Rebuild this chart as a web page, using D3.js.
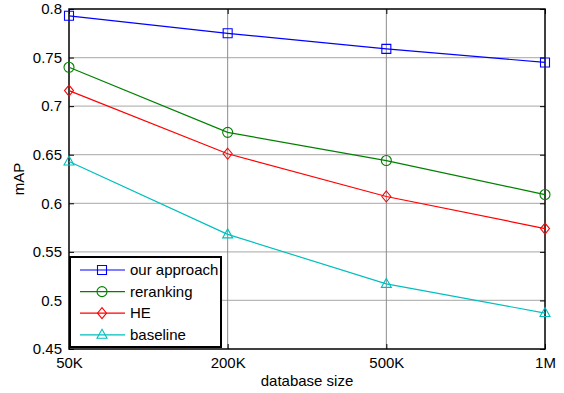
<!DOCTYPE html>
<html>
<head>
<meta charset="utf-8">
<script src="https://cdn.jsdelivr.net/npm/d3@7"></script>
<style>
  body { margin: 0; background: #fff; }
  text { font-family: "Liberation Sans", Arial, sans-serif; }
</style>
</head>
<body>
<div id="canvas"></div>
<script>
const width = 564;
const height = 393;

// data
const sizes = ['50K', '200K', '500K', '1M'];
const ourApproach = [0.793, 0.775, 0.759, 0.745];
const reranking = [0.740, 0.673, 0.644, 0.609];
const he = [0.716, 0.651, 0.607, 0.574];
const baseline = [0.643, 0.568, 0.517, 0.487];
const yTicks = [0.45, 0.5, 0.55, 0.6, 0.65, 0.7, 0.75, 0.8];

const series = [
  { name: 'our approach', values: ourApproach, color: '#0000ff', marker: 'square' },
  { name: 'reranking', values: reranking, color: '#008000', marker: 'circle' },
  { name: 'HE', values: he, color: '#ff0000', marker: 'diamond' },
  { name: 'baseline', values: baseline, color: '#00bfbf', marker: 'triangle' }
];

const fontSize = 15;
const margin = { top: 9, right: 19, bottom: 44, left: 69 };
const innerWidth = width - margin.left - margin.right;
const innerHeight = height - margin.top - margin.bottom;

const svg = d3.select('#canvas').append('svg')
  .attr('width', width)
  .attr('height', height);

const xScale = d3.scalePoint().domain(sizes).range([0, innerWidth]);
const yScale = d3.scaleLinear().domain([0.45, 0.8]).range([innerHeight, 0]);

const g = svg.append('g').attr('transform', `translate(${margin.left},${margin.top})`);

// grid
g.append('g').selectAll('line')
  .data(yTicks.slice(1, -1))
  .enter().append('line')
    .attr('x1', 0).attr('x2', innerWidth)
    .attr('y1', d => yScale(d)).attr('y2', d => yScale(d))
    .attr('stroke', '#b8b8b8').attr('stroke-width', 1.3);
g.append('g').selectAll('line')
  .data(sizes.slice(1, -1))
  .enter().append('line')
    .attr('x1', d => xScale(d)).attr('x2', d => xScale(d))
    .attr('y1', 0).attr('y2', innerHeight)
    .attr('stroke', '#8c8c8c').attr('stroke-width', 1);

// axes with inward ticks
const fmt = d => String(+d.toFixed(2));
const axLeft = g.append('g').call(d3.axisLeft(yScale).tickValues(yTicks).tickSize(-5).tickPadding(7).tickFormat(fmt));
const axRight = g.append('g').attr('transform', `translate(${innerWidth},0)`)
  .call(d3.axisRight(yScale).tickValues(yTicks).tickSize(-5).tickFormat(''));
const axBottom = g.append('g').attr('transform', `translate(0,${innerHeight})`)
  .call(d3.axisBottom(xScale).tickSize(-5).tickPadding(8));
const axTop = g.append('g').call(d3.axisTop(xScale).tickSize(-5).tickFormat(''));
[axLeft, axRight, axBottom, axTop].forEach(a => {
  a.select('.domain').remove();
  a.selectAll('text').attr('font-size', fontSize).attr('fill', '#000')
    .attr('font-family', '"Liberation Sans", Arial, sans-serif');
  a.selectAll('line').attr('stroke', '#000');
});

g.append('rect')
  .attr('width', innerWidth).attr('height', innerHeight)
  .attr('fill', 'none').attr('stroke', '#000').attr('stroke-width', 1.5);

// markers
const markerPath = (type, x, y) => {
  if (type === 'square') return `M${x - 4.5},${y - 4.5}h9v9h-9z`;
  if (type === 'diamond') return `M${x},${y - 5.5}L${x + 4.5},${y}L${x},${y + 5.5}L${x - 4.5},${y}z`;
  if (type === 'triangle') return `M${x},${y - 5.5}L${x + 5},${y + 3.5}L${x - 5},${y + 3.5}z`;
  return `M${x - 5},${y}a5,5 0 1,0 10,0a5,5 0 1,0 -10,0`;
};

const line = d3.line().x((d, i) => xScale(sizes[i])).y(d => yScale(d));

series.forEach(s => {
  g.append('path').datum(s.values)
    .attr('d', line)
    .attr('fill', 'none').attr('stroke', s.color).attr('stroke-width', 1.2);
  g.append('g').selectAll('path').data(s.values).enter().append('path')
    .attr('d', (d, i) => markerPath(s.marker, xScale(sizes[i]), yScale(d)))
    .attr('fill', 'none').attr('stroke', s.color).attr('stroke-width', 1.1);
});

// legend
const lg = svg.append('g').attr('transform', 'translate(70,257)');
lg.append('rect').attr('width', 151).attr('height', 90)
  .attr('fill', '#fff').attr('stroke', '#000').attr('stroke-width', 2);
series.forEach((s, i) => {
  const y = 13 + i * 21.6;
  lg.append('line').attr('x1', 10).attr('x2', 55).attr('y1', y).attr('y2', y)
    .attr('stroke', s.color).attr('stroke-width', 1.2);
  lg.append('path').attr('d', markerPath(s.marker, 32, y))
    .attr('fill', 'none').attr('stroke', s.color).attr('stroke-width', 1.1);
  lg.append('text').attr('x', 60).attr('y', y + 5)
    .attr('font-size', fontSize).text(s.name);
});

// axis titles
svg.append('text')
  .attr('x', margin.left + innerWidth / 2).attr('y', 386)
  .attr('text-anchor', 'middle').attr('font-size', fontSize).text('database size');
svg.append('text')
  .attr('transform', `translate(24,${margin.top + innerHeight / 2}) rotate(-90)`)
  .attr('text-anchor', 'middle').attr('font-size', fontSize).text('mAP');
</script>
</body>
</html>
